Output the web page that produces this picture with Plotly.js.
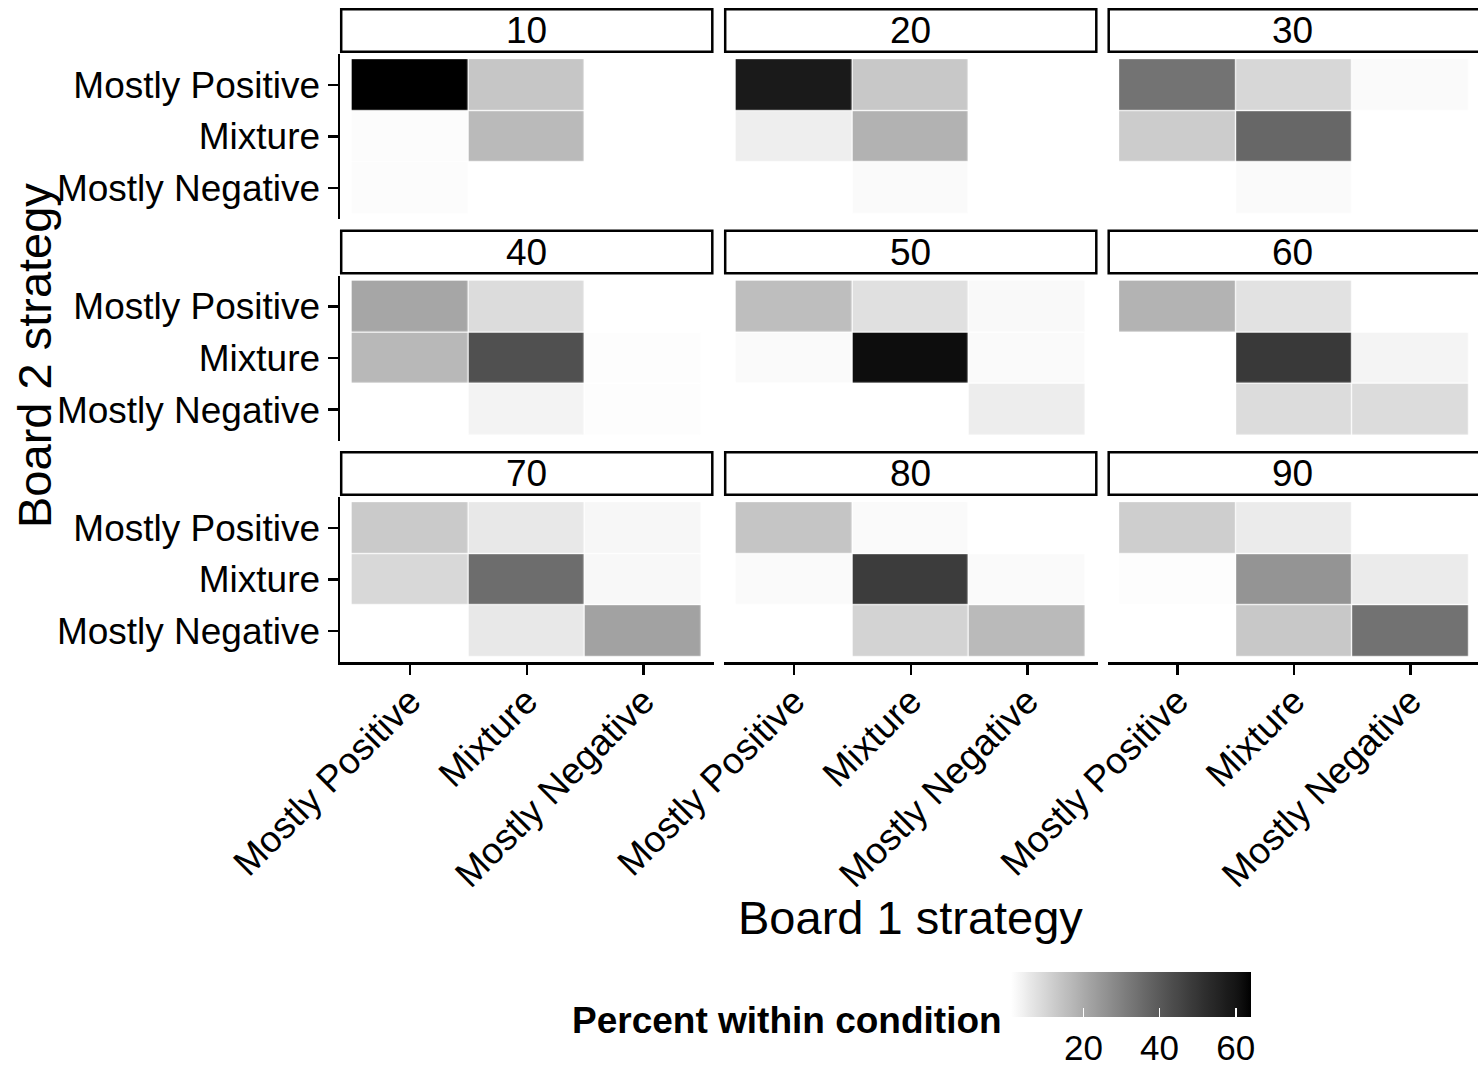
<!DOCTYPE html>
<html>
<head>
<meta charset="utf-8">
<script src="https://cdn.plot.ly/plotly-3.0.1.min.js"></script>
<style>
html,body{margin:0;padding:0;background:#fff;width:1478px;height:1068px;overflow:hidden;}
#chart{position:absolute;left:0;top:0;width:1478px;height:1068px;overflow:hidden;}
</style>
</head>
<body>
<div id="chart"></div>
<script>
// ---------------- data ----------------
const board1Strategies = ['Mostly Positive', 'Mixture', 'Mostly Negative']; // x (columns)
const board2Strategies = ['Mostly Positive', 'Mixture', 'Mostly Negative']; // y (rows, top to bottom)
const conditionLabels = ['10', '20', '30', '40', '50', '60', '70', '80', '90'];
const colorTicks = [20, 40, 60];

// percent within condition; rows = Board 2 strategy, columns = Board 1 strategy
const pct10 = [[64.0, 13.7, null], [1.7, 16.4, null], [1.7, null, null]];
const pct20 = [[58.2, 13.2, null], [4.7, 18.3, null], [null, 2.1, null]];
const pct30 = [[33.5, 9.8, 2.1], [12.3, 36.5, null], [null, 2.1, null]];
const pct40 = [[21.1, 8.7, null], [16.9, 42.6, 1.5], [null, 3.8, 1.5]];
const pct50 = [[15.5, 7.8, 2.3], [2.1, 61.7, 2.1], [null, null, 5.0]];
const pct60 = [[18.0, 7.2, null], [null, 48.9, 3.4], [null, 8.7, 8.7]];
const pct70 = [[12.8, 6.0, 2.7], [9.6, 35.0, 2.5], [null, 6.0, 22.0]];
const pct80 = [[13.9, 2.1, null], [2.1, 48.1, 2.1], [null, 10.7, 16.4]];
const pct90 = [[11.7, 5.4, null], [1.4, 25.4, 5.4], [null, 13.2, 33.8]];
const panels = [pct10, pct20, pct30, pct40, pct50, pct60, pct70, pct80, pct90];
const valueMin = 1, valueMax = 64;

// ---------------- styling / layout ----------------
const W = 1478, H = 1068;
const FONT = 'Liberation Sans, Arial, Helvetica, sans-serif';
const px = x => x / W;
const py = y => 1 - y / H;

// white -> black interpolated in CIE Lab (like ggplot scale_fill_gradient)
function labGray(t) {
  const L = 100 * (1 - t);
  const Y = L > 8 ? Math.pow((L + 16) / 116, 3) : L / 903.3;
  const s = Y <= 0.0031308 ? 12.92 * Y : 1.055 * Math.pow(Y, 1 / 2.4) - 0.055;
  const g = Math.max(0, Math.min(255, Math.round(255 * s)));
  return 'rgb(' + g + ',' + g + ',' + g + ')';
}
const colorscale = [];
for (let i = 0; i <= 40; i++) colorscale.push([i / 40, labGray(i / 40)]);

const colDom = [[340, 713.5], [724, 1097.5], [1107.5, 1478]];
const rowDom = [[54, 219], [275.5, 440.5], [497, 662]];
const colRange = [[-0.6, 2.6], [-0.6, 2.6], [-0.6, 2.58]];

const traces = [];
const layout = {
  width: W, height: H,
  margin: {l: 0, r: 0, t: 0, b: 0, autoexpand: false},
  paper_bgcolor: '#ffffff', plot_bgcolor: 'rgba(0,0,0,0)',
  font: {family: FONT, color: '#000', size: 37},
  showlegend: false,
  coloraxis: {
    cmin: valueMin, cmax: valueMax,
    colorscale: colorscale,
    colorbar: {
      orientation: 'h',
      x: px(1131), xanchor: 'center',
      y: py(972), yanchor: 'top',
      len: 240, lenmode: 'pixels',
      thickness: 45, thicknessmode: 'pixels',
      outlinewidth: 0, xpad: 0, ypad: 0,
      tickmode: 'array', tickvals: colorTicks, ticktext: colorTicks.map(String),
      ticks: 'inside', tickcolor: '#ffffff', ticklen: 9, tickwidth: 1.5,
      tickfont: {family: FONT, size: 35, color: '#000'}
    }
  },
  shapes: [],
  annotations: []
};

panels.forEach((z, i) => {
  const r = Math.floor(i / 3), c = i % 3;
  const sfx = i === 0 ? '' : String(i + 1);
  traces.push({
    type: 'heatmap',
    x: board1Strategies,
    y: board2Strategies,
    z: z,
    coloraxis: 'coloraxis',
    xgap: 1.2, ygap: 1.2,
    xaxis: 'x' + sfx, yaxis: 'y' + sfx,
    hoverongaps: false
  });
  layout['xaxis' + sfx] = {
    domain: [px(colDom[c][0]), px(colDom[c][1])],
    anchor: 'y' + sfx,
    type: 'category', categoryorder: 'array', categoryarray: board1Strategies,
    range: colRange[c],
    showgrid: false, zeroline: false,
    showline: r === 2, linecolor: '#000', linewidth: 2.5,
    ticks: r === 2 ? 'outside' : '', ticklen: 10, tickwidth: 2.5, tickcolor: '#000',
    showticklabels: r === 2, tickangle: -45, ticklabelstandoff: -10,
    tickfont: {family: FONT, size: 37, color: '#000'},
    fixedrange: true
  };
  layout['yaxis' + sfx] = {
    domain: [py(rowDom[r][1]), py(rowDom[r][0])],
    anchor: 'x' + sfx,
    type: 'category', categoryorder: 'array', categoryarray: board2Strategies.slice().reverse(),
    range: [-0.6, 2.6],
    showgrid: false, zeroline: false,
    showline: c === 0, linecolor: '#000', linewidth: 2.5,
    ticks: c === 0 ? 'outside' : '', ticklen: 10, tickwidth: 2.5, tickcolor: '#000',
    showticklabels: c === 0,
    tickfont: {family: FONT, size: 37, color: '#000'},
    fixedrange: true
  };
  // facet strip
  const sx0 = colDom[c][0], sx1 = c === 2 ? 1482 : colDom[c][1];
  const sy0 = rowDom[r][0] - 46, sy1 = rowDom[r][0] - 1;
  layout.shapes.push({
    type: 'rect', xref: 'paper', yref: 'paper',
    x0: px(sx0 + 1.2), x1: px(sx1 - 1.2), y0: py(sy1 - 1.2), y1: py(sy0 + 1.2),
    line: {color: '#000', width: 2.5}, fillcolor: '#ffffff'
  });
  layout.annotations.push({
    xref: 'paper', yref: 'paper',
    x: px((colDom[c][0] + colDom[c][1]) / 2), y: py((sy0 + sy1) / 2),
    xanchor: 'center', yanchor: 'middle',
    text: conditionLabels[i], showarrow: false,
    font: {family: FONT, size: 37, color: '#000'}
  });
});

// axis titles and legend title
layout.annotations.push({
  xref: 'paper', yref: 'paper', x: px(910), y: py(917),
  xanchor: 'center', yanchor: 'middle', showarrow: false,
  text: 'Board 1 strategy', font: {family: FONT, size: 47, color: '#000'}
});
layout.annotations.push({
  xref: 'paper', yref: 'paper', x: px(35), y: py(356),
  xanchor: 'center', yanchor: 'middle', showarrow: false, textangle: -90,
  text: 'Board 2 strategy', font: {family: FONT, size: 47, color: '#000'}
});
layout.annotations.push({
  xref: 'paper', yref: 'paper', x: px(1004), y: py(1020),
  xanchor: 'right', yanchor: 'middle', showarrow: false,
  text: '<b>Percent within condition</b>', font: {family: FONT, size: 37, color: '#000'}
});

Plotly.newPlot('chart', traces, layout, {displayModeBar: false, staticPlot: true});
</script>
</body>
</html>
